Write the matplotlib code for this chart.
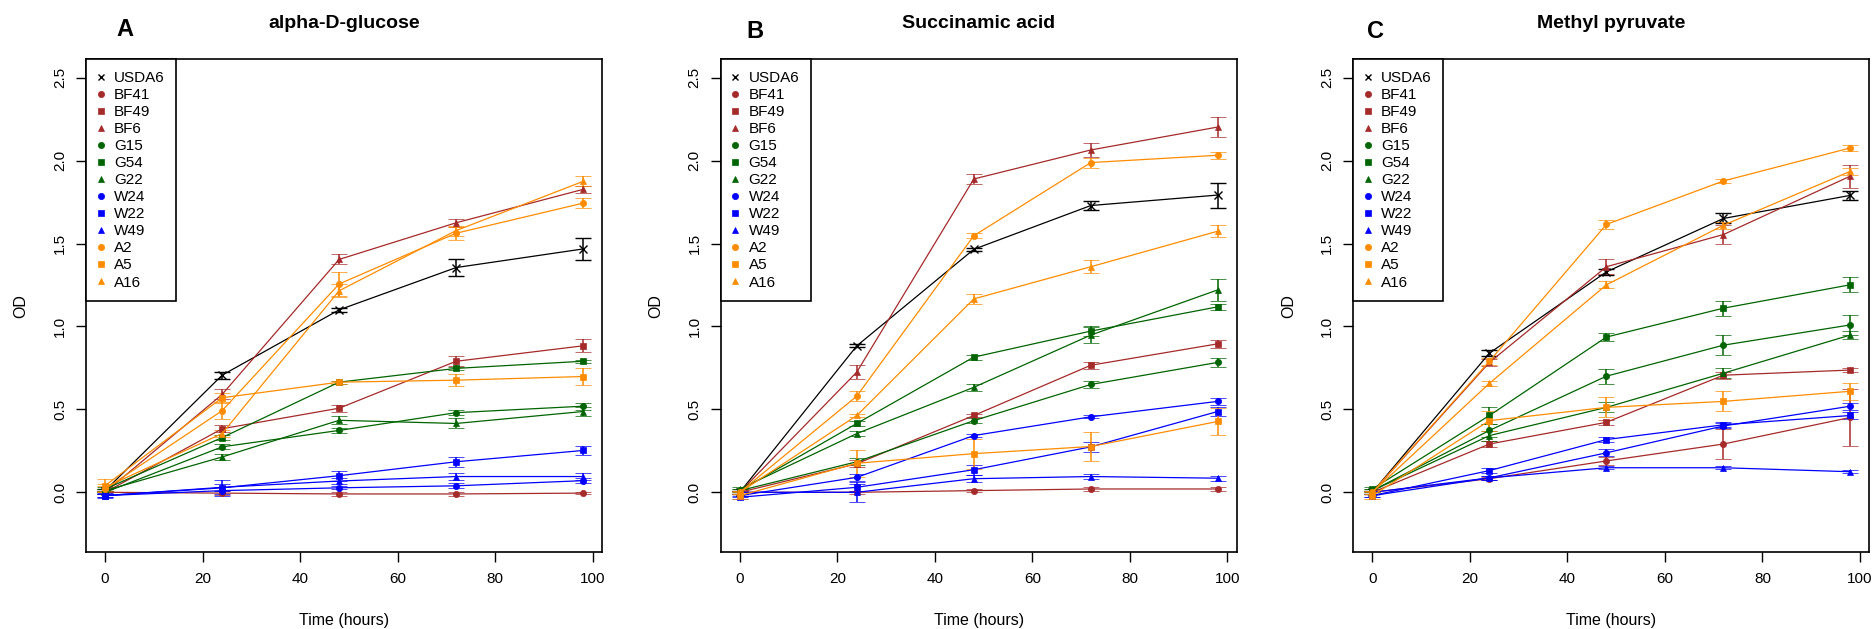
import matplotlib
matplotlib.use("Agg")
import matplotlib.pyplot as plt
from matplotlib.lines import Line2D

plt.rcParams['font.family'] = ['Liberation Sans', 'DejaVu Sans']

time_h = [0, 24, 48, 72, 98]
strains = ["USDA6", "BF41", "BF49", "BF6", "G15", "G54", "G22",
           "W24", "W22", "W49", "A2", "A5", "A16"]
panel_titles = ["alpha-D-glucose", "Succinamic acid", "Methyl pyruvate"]
panel_letters = ["A", "B", "C"]
y_ticks = [0.0, 0.5, 1.0, 1.5, 2.0, 2.5]
x_ticks = [0, 20, 40, 60, 80, 100]

# ---- Panel A: alpha-D-glucose (mean OD, error) ----
glucose_mean = {
    "USDA6": [0.01, 0.706, 1.10, 1.355, 1.467],
    "BF41": [0.0, -0.005, -0.01, -0.01, -0.005],
    "BF49": [0.0, 0.383, 0.507, 0.79, 0.883],
    "BF6": [0.0, 0.59, 1.404, 1.625, 1.826],
    "G15": [0.0, 0.274, 0.373, 0.48, 0.519],
    "G54": [0.02, 0.33, 0.664, 0.747, 0.79],
    "G22": [0.01, 0.213, 0.434, 0.415, 0.487],
    "W24": [-0.02, 0.01, 0.027, 0.039, 0.07],
    "W22": [-0.02, 0.027, 0.10, 0.184, 0.252],
    "W49": [-0.02, 0.03, 0.068, 0.095, 0.095],
    "A2": [0.02, 0.492, 1.256, 1.562, 1.743],
    "A5": [0.04, 0.57, 0.664, 0.676, 0.698],
    "A16": [0.03, 0.354, 1.215, 1.578, 1.874],
}
glucose_err = {
    "USDA6": [0.01, 0.02, 0.01, 0.05, 0.065],
    "BF41": [0.01, 0.01, 0.01, 0.01, 0.005],
    "BF49": [0.01, 0.02, 0.02, 0.03, 0.04],
    "BF6": [0.01, 0.03, 0.03, 0.025, 0.02],
    "G15": [0.01, 0.015, 0.015, 0.015, 0.02],
    "G54": [0.01, 0.015, 0.01, 0.01, 0.01],
    "G22": [0.01, 0.02, 0.025, 0.03, 0.03],
    "W24": [0.01, 0.02, 0.01, 0.015, 0.015],
    "W22": [0.015, 0.05, 0.03, 0.03, 0.025],
    "W49": [0.01, 0.02, 0.02, 0.02, 0.02],
    "A2": [0.02, 0.05, 0.07, 0.04, 0.03],
    "A5": [0.04, 0.03, 0.01, 0.035, 0.05],
    "A16": [0.02, 0.02, 0.04, 0.03, 0.03],
}

# ---- Panel B: Succinamic acid ----
succinamic_mean = {
    "USDA6": [0.0, 0.883, 1.465, 1.729, 1.792],
    "BF41": [0.0, 0.0, 0.01, 0.02, 0.02],
    "BF49": [0.0, 0.172, 0.463, 0.766, 0.895],
    "BF6": [0.0, 0.725, 1.889, 2.064, 2.202],
    "G15": [0.01, 0.184, 0.432, 0.65, 0.783],
    "G54": [0.01, 0.415, 0.815, 0.972, 1.118],
    "G22": [0.02, 0.354, 0.633, 0.948, 1.22],
    "W24": [-0.02, 0.09, 0.342, 0.455, 0.548],
    "W22": [-0.03, 0.03, 0.136, 0.274, 0.487],
    "W49": [0.0, 0.0, 0.082, 0.095, 0.085],
    "A2": [0.0, 0.58, 1.547, 1.988, 2.032],
    "A5": [-0.02, 0.175, 0.233, 0.276, 0.427],
    "A16": [0.0, 0.463, 1.166, 1.36, 1.574],
}
succinamic_err = {
    "USDA6": [0.01, 0.01, 0.01, 0.03, 0.075],
    "BF41": [0.01, 0.01, 0.01, 0.01, 0.01],
    "BF49": [0.01, 0.02, 0.01, 0.02, 0.025],
    "BF6": [0.01, 0.04, 0.03, 0.04, 0.06],
    "G15": [0.01, 0.02, 0.015, 0.02, 0.025],
    "G54": [0.01, 0.015, 0.015, 0.03, 0.02],
    "G22": [0.01, 0.015, 0.02, 0.05, 0.065],
    "W24": [0.01, 0.02, 0.01, 0.01, 0.02],
    "W22": [0.01, 0.02, 0.03, 0.03, 0.03],
    "W49": [0.01, 0.06, 0.02, 0.015, 0.015],
    "A2": [0.01, 0.03, 0.015, 0.03, 0.02],
    "A5": [0.02, 0.08, 0.09, 0.085, 0.08],
    "A16": [0.01, 0.01, 0.03, 0.04, 0.035],
}

# ---- Panel C: Methyl pyruvate ----
pyruvate_mean = {
    "USDA6": [0.0, 0.839, 1.329, 1.651, 1.79],
    "BF41": [0.0, 0.082, 0.189, 0.291, 0.451],
    "BF49": [0.0, 0.291, 0.422, 0.706, 0.737],
    "BF6": [0.0, 0.783, 1.36, 1.554, 1.906],
    "G15": [0.01, 0.373, 0.70, 0.887, 1.009],
    "G54": [0.02, 0.463, 0.936, 1.11, 1.251],
    "G22": [0.01, 0.342, 0.512, 0.718, 0.948],
    "W24": [-0.02, 0.087, 0.238, 0.40, 0.519],
    "W22": [-0.02, 0.131, 0.318, 0.407, 0.463],
    "W49": [0.0, 0.087, 0.148, 0.148, 0.124],
    "A2": [0.0, 0.79, 1.615, 1.877, 2.076],
    "A5": [-0.02, 0.432, 0.512, 0.548, 0.609],
    "A16": [0.0, 0.657, 1.251, 1.61, 1.935],
}
pyruvate_err = {
    "USDA6": [0.01, 0.02, 0.02, 0.03, 0.025],
    "BF41": [0.01, 0.01, 0.025, 0.09, 0.17],
    "BF49": [0.01, 0.02, 0.015, 0.02, 0.01],
    "BF6": [0.01, 0.02, 0.045, 0.06, 0.07],
    "G15": [0.01, 0.04, 0.045, 0.06, 0.06],
    "G54": [0.01, 0.05, 0.025, 0.045, 0.045],
    "G22": [0.01, 0.03, 0.03, 0.03, 0.025],
    "W24": [0.01, 0.01, 0.02, 0.015, 0.02],
    "W22": [0.01, 0.015, 0.015, 0.015, 0.02],
    "W49": [0.01, 0.01, 0.01, 0.01, 0.01],
    "A2": [0.01, 0.02, 0.025, 0.01, 0.02],
    "A5": [0.02, 0.06, 0.06, 0.06, 0.05],
    "A16": [0.01, 0.015, 0.02, 0.02, 0.02],
}

# ---- styles ----
BROWN, GREEN, BLUE, ORANGE = "#A52A2A", "#006400", "#0000FF", "#FF8C00"
strain_colors = ["black", BROWN, BROWN, BROWN, GREEN, GREEN, GREEN,
                 BLUE, BLUE, BLUE, ORANGE, ORANGE, ORANGE]
strain_markers = ["x", "o", "s", "^", "o", "s", "^", "o", "s", "^", "o", "s", "^"]

W, H = 1875, 629
fig = plt.figure(figsize=(W / 100, H / 100), dpi=100)

ax_left_px = [86, 720.7, 1353.3]
ax_w_px = 516
ax_top_px, ax_bot_px = 59.4, 552
letter_pos = [(125, 30), (755, 32), (1376, 32)]

panels = [(glucose_mean, glucose_err), (succinamic_mean, succinamic_err),
          (pyruvate_mean, pyruvate_err)]

for i, (means, errs) in enumerate(panels):
    left = ax_left_px[i]
    ax = fig.add_axes([left / W, 1 - ax_bot_px / H, ax_w_px / W,
                       (ax_bot_px - ax_top_px) / H])
    for s, c, m in zip(strains, strain_colors, strain_markers):
        ms = 5.5 if m == "x" else 4.5
        ax.errorbar(time_h, means[s], yerr=errs[s], color=c, marker=m,
                    markersize=ms, linewidth=0.9, elinewidth=1.1,
                    capsize=5.5, capthick=1.1, markeredgewidth=1.0 if m == "x" else 0.5)
    ax.set_xlim(-3.92, 101.92)
    ax.set_ylim(-0.36, 2.61)
    ax.set_xticks(x_ticks)
    ax.set_yticks(y_ticks)
    ax.set_xticklabels([str(v) for v in x_ticks])
    ax.set_yticklabels([f"{v:.1f}" for v in y_ticks])
    ax.tick_params(axis="both", direction="out", length=7.2, width=1.0,
                   labelsize=11, colors="black")
    ax.tick_params(axis="x", pad=7)
    ax.tick_params(axis="y", pad=6.5, labelrotation=90)
    for lab in ax.get_yticklabels():
        lab.set_va("center")
    for sp in ax.spines.values():
        sp.set_linewidth(1.2)
        sp.set_color("black")

    handles = [Line2D([], [], color=c, marker=m, linestyle="none",
                      markersize=5 if m == "x" else 4.5,
                      markeredgewidth=1.0 if m == "x" else 0.5)
               for c, m in zip(strain_colors, strain_markers)]
    leg = ax.legend(handles, strains, loc="upper left", bbox_to_anchor=(0, 1),
                    borderaxespad=0, frameon=True, fancybox=False,
                    edgecolor="black", framealpha=1, fontsize=11,
                    handlelength=0.4, handletextpad=0.67, labelspacing=0.2,
                    borderpad=0.75)
    leg.get_frame().set_linewidth(1.2)

    cx = (left + ax_w_px / 2) / W
    fig.text(cx, 1 - 24 / H, panel_titles[i], ha="center", va="center",
             fontsize=14, fontweight="bold")
    lx, ly = letter_pos[i]
    fig.text(lx / W, 1 - ly / H, panel_letters[i], ha="center", va="center",
             fontsize=17, fontweight="bold")
    fig.text(cx, 1 - 620 / H, "Time (hours)", ha="center", va="center",
             fontsize=11.5)
    fig.text((left - 65) / W, 1 - ((ax_top_px + ax_bot_px) / 2) / H, "OD",
             ha="center", va="center", rotation=90, fontsize=11.5)

fig.savefig("out.png", dpi=100)
